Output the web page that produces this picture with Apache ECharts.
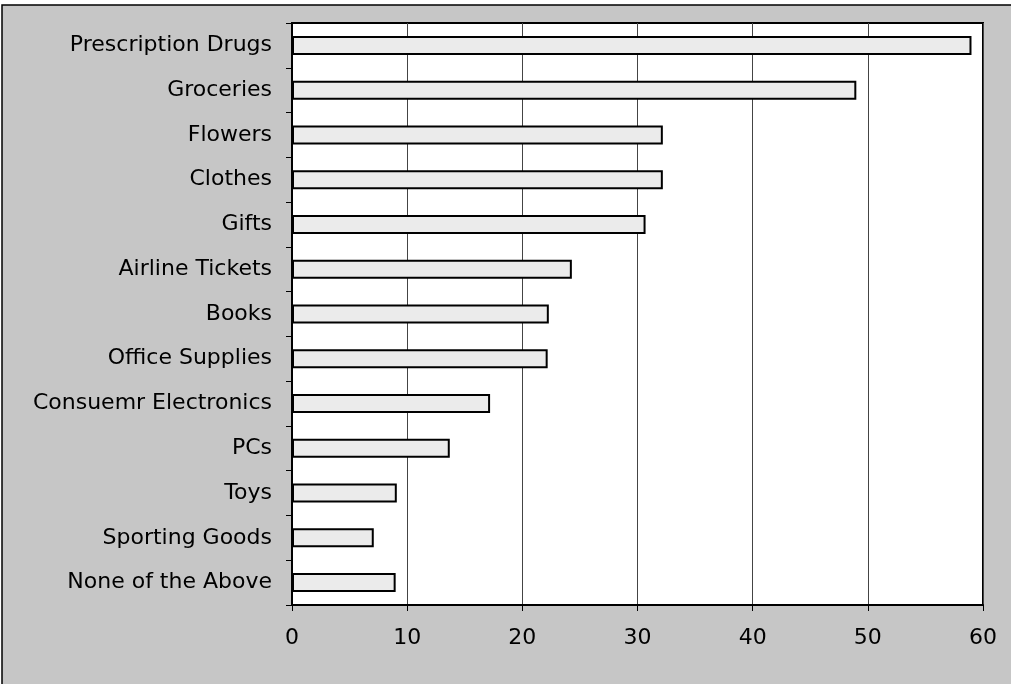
<!DOCTYPE html>
<html>
<head>
<meta charset="utf-8">
<script src="https://cdn.jsdelivr.net/npm/echarts@6/dist/echarts.min.js"></script>
<style>
  html, body { margin: 0; padding: 0; background: #ffffff; }
  #chart { width: 1011px; height: 684px; }
</style>
</head>
<body>
<div id="chart"></div>
<script>
// Purchase categories, top to bottom
const categories = [
  'Prescription Drugs', 'Groceries', 'Flowers', 'Clothes', 'Gifts',
  'Airline Tickets', 'Books', 'Office Supplies', 'Consuemr Electronics',
  'PCs', 'Toys', 'Sporting Goods', 'None of the Above'
];
// Share of respondents for each category
const values = [59, 49, 32.2, 32.2, 30.7, 24.3, 22.3, 22.2, 17.2, 13.7, 9.1, 7.1, 9.0];
// Value axis ticks
const xTicks = [0, 10, 20, 30, 40, 50, 60];

const chart = echarts.init(document.getElementById('chart'), null, { renderer: 'canvas' });

const labelFont = { fontFamily: 'DejaVu Sans, Liberation Sans, sans-serif', fontSize: 22, color: '#000' };

chart.setOption({
  backgroundColor: '#ffffff',
  animation: false,
  graphic: [
    {
      type: 'rect', z: -10, silent: true,
      shape: { x: 2, y: 5, width: 1011, height: 684 },
      style: { fill: '#c6c6c6', stroke: '#000', lineWidth: 1.5 }
    }
  ],
  grid: {
    left: 292, right: 28, top: 23, bottom: 79,
    show: true, backgroundColor: '#ffffff', borderColor: '#000', borderWidth: 2
  },
  xAxis: {
    type: 'value',
    min: xTicks[0], max: xTicks[xTicks.length - 1], interval: 10,
    axisLine: { show: true, lineStyle: { color: '#000', width: 2 } },
    axisTick: { show: true, length: 6, lineStyle: { color: '#000', width: 1 } },
    axisLabel: Object.assign({ margin: 22 }, labelFont),
    splitLine: { show: true, lineStyle: { color: '#444', width: 1 } }
  },
  yAxis: {
    type: 'category',
    data: categories,
    inverse: true,
    axisLine: { show: true, lineStyle: { color: '#000', width: 2 } },
    axisTick: { show: true, length: 6, lineStyle: { color: '#000', width: 1 } },
    axisLabel: Object.assign({ margin: 20 }, labelFont),
    splitLine: { show: false }
  },
  series: [{
    type: 'bar',
    data: values,
    barWidth: 19,
    itemStyle: { color: '#ebebeb', borderColor: '#000', borderWidth: 2 }
  }]
});
</script>
</body>
</html>
